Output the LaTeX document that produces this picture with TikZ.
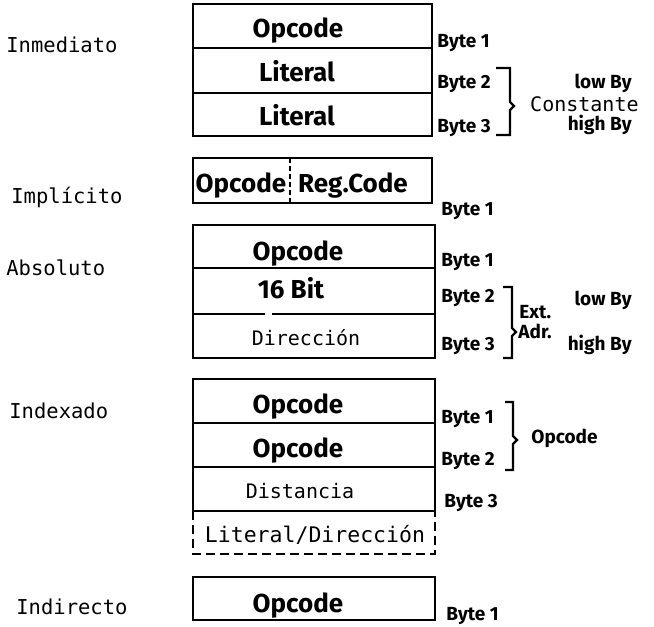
\documentclass[tikz,border=0pt]{standalone}
\usepackage{fontspec}
\setmainfont{Fira Sans}
\newfontfamily\monof{DejaVu Sans Mono}
\begin{document}
\begin{tikzpicture}[x=1pt,y=-1pt, line width=2.8pt,
 cell/.style={font=\bfseries\fontsize{26}{26}\selectfont, anchor=base, inner sep=0pt},
 bytel/.style={font=\bfseries\fontsize{19}{19}\selectfont, anchor=base west, inner sep=0pt},
 sidel/.style={font=\bfseries\fontsize{19}{19}\selectfont, inner sep=0pt},
 monol/.style={font=\monof\fontsize{20}{20}\selectfont, anchor=base, inner sep=0pt},
 model/.style={font=\monof\fontsize{20.5}{20.5}\selectfont, anchor=base west, inner sep=0pt},
 brk/.style={line width=2.2pt, line join=miter}]
\useasboundingbox (0,0) rectangle (654,627);

% ---------- Inmediato
\node[model] (mInm) at (5,52) {Inmediato};
\draw (193,4) rectangle (432,136);
\draw (193,48) -- (432,48);
\draw (193,93) -- (432,93);
\node[cell] (i1) at (298,37) {Opcode};
\node[cell] (i2) at (297,81) {Literal};
\node[cell] (i3) at (297,125) {Literal};
\node[bytel] (ib1) at (436,47) {Byte 1};
\node[bytel] (ib2) at (436,88) {Byte 2};
\node[bytel] (ib3) at (436,132) {Byte 3};
\draw[brk] (496,68) -- (510,68) -- (510,102) -- (514,106) -- (510,110) -- (510,135) -- (496,135);
\node[sidel, anchor=base east] (ilow) at (633,88) {low By};
\node[monol, anchor=base east] (icon) at (640,111) {Constante};
\node[sidel, anchor=base east] (ihigh) at (633,130) {high By};

% ---------- Implicito
\node[model] (mImp) at (10,203) {Implícito};
\draw (193,158) rectangle (432,203);
\draw[line width=1.8pt, dash pattern=on 5pt off 3pt] (290,158) -- (290,203);
\node[cell] (p1) at (241,192) {Opcode};
\node[cell] (p2) at (353,192) {Reg.Code};
\node[bytel] (pb1) at (440,215) {Byte 1};

% ---------- Absoluto
\node[model] (mAbs) at (5,275) {Absoluto};
\draw (193,225) rectangle (435,358);
\draw (193,268) -- (435,268);
\draw (193,314) -- (265,314);
\draw (272,314) -- (435,314);
\node[cell] (a1) at (298,260) {Opcode};
\node[cell] (a2) at (291,298) {16 Bit};
\node[monol] (a3) at (306,345) {Dirección};
\node[bytel] (ab1) at (440,266) {Byte 1};
\node[bytel] (ab2) at (440,302) {Byte 2};
\node[bytel] (ab3) at (440,350) {Byte 3};
\draw[brk] (503,287) -- (512,287) -- (512,328) -- (516,332) -- (512,336) -- (512,358) -- (503,358);
\node[sidel, anchor=base west] (aext) at (518,318) {Ext.};
\node[sidel, anchor=base west] (aadr) at (517,338) {Adr.};
\node[sidel, anchor=base east] (alow) at (633,305) {low By};
\node[sidel, anchor=base east] (ahigh) at (633,350) {high By};

% ---------- Indexado
\node[model] (mInd) at (8,418) {Indexado};
\draw (193,511) -- (193,379) -- (435,379) -- (435,511);
\draw (193,423) -- (435,423);
\draw (193,467) -- (435,467);
\draw (193,511) -- (435,511);
\draw[dash pattern=on 9pt off 5pt] (193,511) -- (193,554) -- (435,554) -- (435,511);
\node[cell] (x1) at (298,413) {Opcode};
\node[cell] (x2) at (298,457) {Opcode};
\node[monol] (x3) at (300,498) {Distancia};
\node[monol, font=\monof\fontsize{21.5}{21.5}\selectfont] (x4) at (315,542) {Literal/Dirección};
\node[bytel] (xb1) at (440,423) {Byte 1};
\node[bytel] (xb2) at (440,465) {Byte 2};
\node[bytel] (xb3) at (443,507) {Byte 3};
\draw[brk] (505,402) -- (513,402) -- (513,436) -- (517,440) -- (513,444) -- (513,470) -- (505,470);
\node[sidel, anchor=base west] (xop) at (530,443) {Opcode};

% ---------- Indirecto
\node[model] (mIndir) at (15,614) {Indirecto};
\draw (193,577) rectangle (435,620);
\node[cell] (r1) at (298,612) {Opcode};
\node[bytel] (rb1) at (445,620) {Byte 1};
\end{tikzpicture}
\end{document}
